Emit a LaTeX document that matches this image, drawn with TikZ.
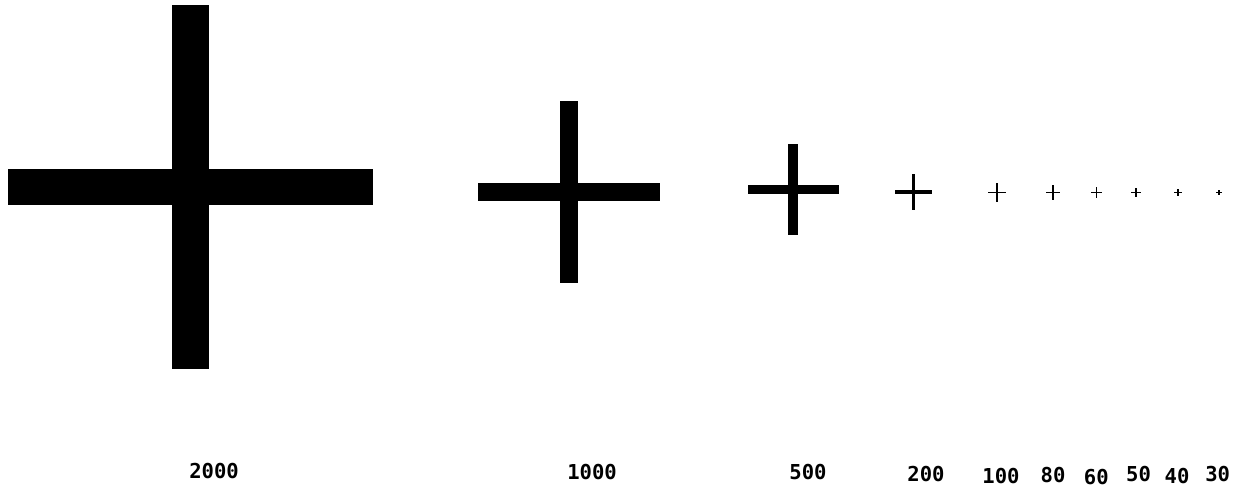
\documentclass[tikz,border=0pt]{standalone}
\usepackage{fontspec}
\newfontfamily\pixelfont{DejaVu Sans Mono}
\usepackage{tikz}
\usetikzlibrary{positioning, calc}
\definecolor{crossInk}{RGB}{0,0,0}
\tikzset{
    chart/.style={x=0.02cm, y=-0.02cm},
    crossbar/.style={fill=crossInk, draw=none},
    sizelabel/.style={font=\pixelfont\bfseries\fontsize{11.7}{12}\selectfont,
                      text=crossInk, inner sep=0pt, anchor=center},
}

\begin{document}
\begin{tikzpicture}[chart]

\useasboundingbox (0,0) rectangle (1243,488);

% ─── Croix : valeur / centre / position de l'étiquette ─────────────────
\foreach \v/\cx/\cy/\lx/\ly in {2000/190.5/187/214/471.5,
                                1000/569/192/592/472.5,
                                500/793/189.5/808/472.5,
                                200/913.5/192/926/474,
                                100/997/192.5/1001/476.5,
                                80/1053/192.5/1053/475.5,
                                60/1096.5/192.5/1096.3/477.5,
                                50/1136/192.5/1138.5/474.5,
                                40/1178/192.5/1177/476,
                                30/1219/192.5/1217.7/474.5}{
    \pgfmathsetmacro\s{\v*0.182}
    \pgfmathsetmacro\t{max(\s/10,1.7)}
    \fill[crossbar] ({\cx-\s/2},{\cy-\t/2}) rectangle ({\cx+\s/2},{\cy+\t/2});
    \fill[crossbar] ({\cx-\t/2},{\cy-\s/2}) rectangle ({\cx+\t/2},{\cy+\s/2});
    \node[sizelabel] (label-\v) at (\lx,\ly) {\v};
}

\end{tikzpicture}
\end{document}
